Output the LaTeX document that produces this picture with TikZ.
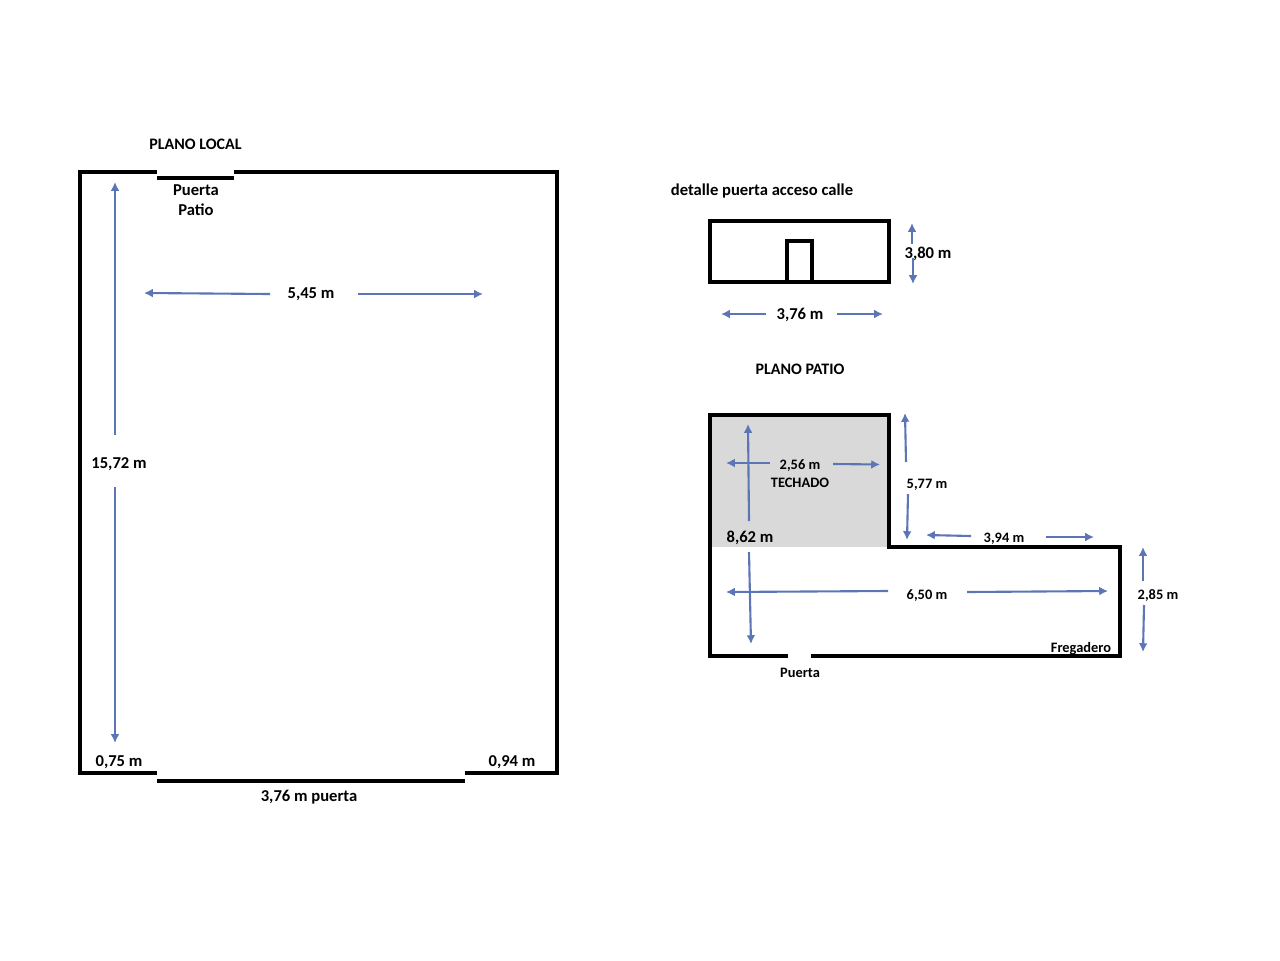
\documentclass[tikz,border=0pt]{standalone}
\usepackage{fontspec}
\setmainfont{Carlito}
\usetikzlibrary{arrows.meta}
\definecolor{cota}{RGB}{91,117,181}
\definecolor{techado}{RGB}{217,217,217}
\tikzset{
  muro/.style={line width=1.75pt,line cap=butt,line join=miter},
  medida/.style={draw=cota,line width=1.2pt,-{Latex[length=5pt,width=5pt]}},
  rotulo/.style={inner sep=0pt,yshift=-0.4pt,font=\fontsize{9.45}{11}\selectfont\bfseries,text height=1.45ex,text depth=0.4ex},
  titulo/.style={rotulo,font=\fontsize{9.1}{11}\selectfont\bfseries},
  rotulochico/.style={inner sep=0pt,yshift=-0.4pt,font=\fontsize{8.2}{10}\selectfont\bfseries,text height=1.45ex,text depth=0.4ex},
}
\begin{document}
\begin{tikzpicture}[x=0.02cm,y=-0.02cm]
  \useasboundingbox (0,0) rectangle (1280,960);
  % plano local
  \coordinate (L1) at (157,172);
  \coordinate (L2) at (80,172);
  \coordinate (L3) at (80,773);
  \coordinate (L4) at (157,773);
  \coordinate (L5) at (465,773);
  \coordinate (L6) at (557,773);
  \coordinate (L7) at (557,172);
  \coordinate (L8) at (234,172);
  \draw[muro] (L1) -- (L2) -- (L3) -- (L4);
  \draw[muro] (L5) -- (L6) -- (L7) -- (L8);
  \draw[muro] (157,178) -- (234,178);
  \draw[muro] (157,781) -- (465,781);
  \node[titulo] (planolocal) at (195.5,144) {PLANO LOCAL};
  \node[rotulo] (puertapatio) at (196,190) {Puerta};
  \node[rotulo] (patio) at (196,210) {Patio};
  \node[rotulo] (ancholocal) at (311,293) {5,45 m};
  \node[rotulo] (largolocal) at (119,463) {15,72 m};
  \node[rotulo] (esqizq) at (119,761) {0,75 m};
  \node[rotulo] (esqder) at (512,761) {0,94 m};
  \node[rotulo] (puertalocal) at (309,796) {3,76 m puerta};
  \draw[medida] (115,435) -- (115,182);
  \draw[medida] (115,487) -- (115,743);
  \draw[medida] (270,294) -- (144,293);
  \draw[medida] (358,294) -- (483,294);
  % detalle puerta
  \node[rotulo] (detalle) at (762,190) {detalle puerta acceso calle};
  \draw[muro] (710,221) rectangle (889,282);
  \draw[muro] (787,282) -- (787,241) -- (812,241) -- (812,282);
  \node[rotulo] (altodetalle) at (928,253) {3,80 m};
  \node[rotulo] (anchodetalle) at (800,314) {3,76 m};
  \draw[medida] (912,244) -- (912,223);
  \draw[medida] (913,258) -- (913,284);
  \draw[medida] (766,314) -- (721,314);
  \draw[medida] (837,314) -- (883,314);
  % plano patio
  \node[titulo] (planopatio) at (800,369) {PLANO PATIO};
  \fill[techado] (710,415) rectangle (889,547);
  \draw[muro] (788,656) -- (710,656) -- (710,415) -- (889,415) -- (889,547) -- (1120,547) -- (1120,656) -- (811,656);
  \node[rotulochico] (anchotechado) at (800,464) {2,56 m};
  \node[rotulochico] (techadotxt) at (800,482) {TECHADO};
  \node[rotulochico] (altotechado) at (927,483) {5,77 m};
  \node[rotulo] (largopatio) at (750,537) {8,62 m};
  \node[rotulochico] (tramo) at (1004,537) {3,94 m};
  \node[rotulochico] (anchopatio) at (927,594) {6,50 m};
  \node[rotulochico] (fondo) at (1158,594) {2,85 m};
  \node[rotulochico] (fregadero) at (1081,647) {Fregadero};
  \node[rotulochico] (puertapat) at (800,672) {Puerta};
  \draw[medida] (749,521) -- (748,424);
  \draw[medida] (749,552) -- (751,644);
  \draw[medida] (770,463) -- (726,463);
  \draw[medida] (833,464) -- (880,464.5);
  \draw[medida] (906,462) -- (905,413);
  \draw[medida] (908,494) -- (907,540);
  \draw[medida] (971,536) -- (926,535);
  \draw[medida] (1046,537) -- (1094,537);
  \draw[medida] (888,591) -- (726,592);
  \draw[medida] (967,592) -- (1108,591);
  \draw[medida] (1143,581) -- (1143,547);
  \draw[medida] (1144,605) -- (1143,652);
\end{tikzpicture}
\end{document}
